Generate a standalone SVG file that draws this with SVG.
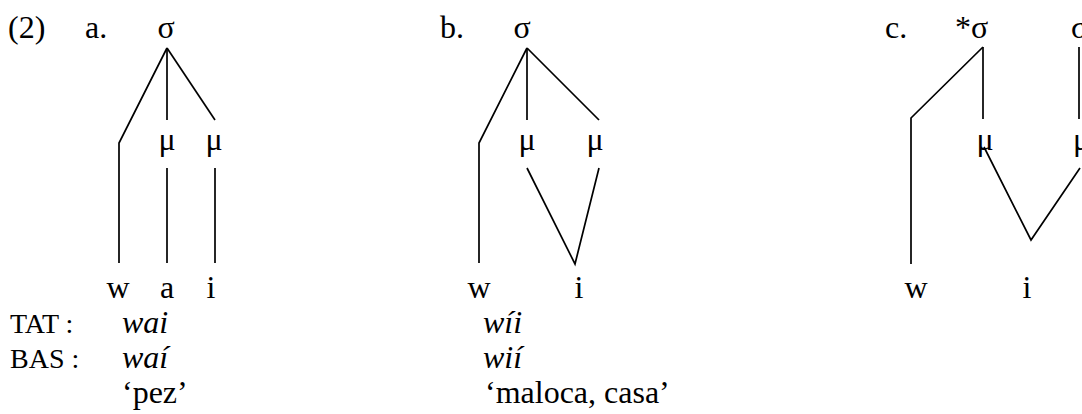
<svg xmlns="http://www.w3.org/2000/svg" width="1082" height="414" viewBox="0 0 1082 414">
<style>
text{font-family:"Liberation Serif","Times New Roman",serif;font-size:32px;fill:#000}
.m{text-anchor:middle}
.it{font-style:italic}
.sc{font-size:28px}
line,polyline{stroke:#000;stroke-width:1.7;fill:none}
</style>
<rect width="1082" height="414" fill="#fff"/>
<g id="labels">
<text x="8" y="38">(2)</text>
<text x="85" y="38">a.</text>
<text x="440" y="38">b.</text>
<text x="885" y="38">c.</text>
</g>
<g id="tree-a">
<text class="m" x="166" y="38">σ</text>
<text class="m" x="167" y="150">μ</text>
<text class="m" x="214" y="150">μ</text>
<text class="m" x="118" y="298">w</text>
<text class="m" x="167" y="298">a</text>
<text class="m" x="211" y="298">i</text>
<text class="sc" x="10" y="333">TAT :</text>
<text class="it" x="122" y="333">wai</text>
<text class="sc" x="10" y="368">BAS :</text>
<text class="it" x="122" y="368">waí</text>
<text x="122" y="403">‘pez’</text>
</g>
<g id="tree-b">
<text class="m" x="522" y="38">σ</text>
<text class="m" x="527" y="150">μ</text>
<text class="m" x="595" y="150">μ</text>
<text class="m" x="479" y="298">w</text>
<text class="m" x="579" y="298">i</text>
<text class="it" x="483" y="333">wíi</text>
<text class="it" x="483" y="368">wií</text>
<text x="485" y="403">‘maloca, casa’</text>
</g>
<g id="tree-c">
<text x="955" y="38">*σ</text>
<text x="1071" y="38">σ</text>
<text class="m" x="985" y="150">μ</text>
<text x="1073" y="150">μ</text>
<text class="m" x="916" y="298">w</text>
<text class="m" x="1027" y="298">i</text>
</g>
<g id="connectors">
<polyline points="167,48 119,143 119,263"/>
<line x1="167" y1="48" x2="167" y2="120"/>
<line x1="167" y1="48" x2="215" y2="120"/>
<line x1="167" y1="168" x2="167" y2="263"/>
<line x1="215" y1="168" x2="215" y2="263"/>
<polyline points="527,48 479,143 479,263"/>
<line x1="527" y1="48" x2="527" y2="120"/>
<line x1="527" y1="48" x2="599" y2="120"/>
<polyline points="527,168 575,264 599,168"/>
<polyline points="983,47 911,118 911,264"/>
<line x1="983" y1="47" x2="983" y2="119"/>
<line x1="1079" y1="47" x2="1079" y2="119"/>
<polyline points="984,147 1031,240 1080,168"/>
</g>
</svg>
